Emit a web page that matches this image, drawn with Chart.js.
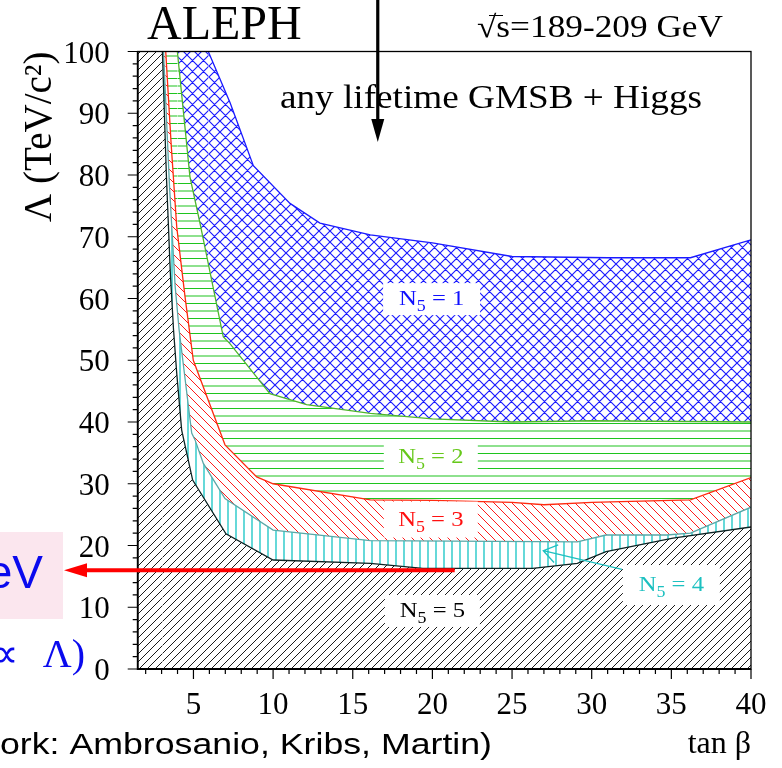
<!DOCTYPE html>
<html>
<head>
<meta charset="utf-8">
<script src="https://cdn.jsdelivr.net/npm/chart.js@4.4.1/dist/chart.umd.min.js"></script>
<style>
  html, body { margin: 0; padding: 0; background: #ffffff; }
  #wrap { width: 782px; height: 768px; position: relative; }
</style>
</head>
<body>
<div id="wrap"><canvas id="c" width="782" height="768"></canvas></div>
<script>
// ---- axes ----
const tanBetaRange = [1.5, 40];
const lambdaRange = [0, 100];
const xTicks = [5, 10, 15, 20, 25, 30, 35, 40];
const yTicks = [0, 10, 20, 30, 40, 50, 60, 70, 80, 90, 100];
const xMinorTicks = [2, 3, 4, 6, 7, 8, 9, 11, 12, 13, 14, 16, 17, 18, 19, 21, 22, 23, 24,
                     26, 27, 28, 29, 31, 32, 33, 34, 36, 37, 38, 39];
const yMinorTicks = [2, 4, 6, 8, 12, 14, 16, 18, 22, 24, 26, 28, 32, 34, 36, 38, 42, 44, 46, 48,
                     52, 54, 56, 58, 62, 64, 66, 68, 72, 74, 76, 78, 82, 84, 86, 88, 92, 94, 96, 98];

// ---- excluded-region upper boundaries, Lambda (TeV/c^2) vs tan(beta) ----
const n5Bound5TanB = [1.5, 3.05, 3.3, 3.55, 3.75, 3.95, 4.26, 4.95, 7.04, 10.0, 16.1, 19.4, 26.3, 29.1, 30.9, 35.1, 40];
const n5Bound5Lam  = [100, 100, 80, 64, 54.9, 47.9, 38.7, 30.6, 21.9, 17.65, 17.1, 16.3, 16.3, 17.1, 19.0, 21.2, 23.0];

const n5Bound4TanB = [1.5, 3.12, 3.5, 3.85, 4.1, 4.89, 5.1, 5.62, 6.98, 10.0, 16.1, 29.1, 30.9, 34.7, 36.2, 40];
const n5Bound4Lam  = [100, 100, 78, 62, 54.9, 38.2, 37.1, 33.3, 27.6, 22.5, 20.8, 20.6, 21.7, 21.7, 22.0, 26.2];

const n5Bound3TanB = [1.5, 3.26, 3.6, 3.95, 4.47, 4.99, 6.98, 8.97, 10.0, 16.1, 20, 25, 27, 30, 36.2, 40];
const n5Bound3Lam  = [100, 100, 85, 71.6, 60.3, 50, 36.3, 31.1, 30.0, 27.4, 27.3, 27.0, 26.6, 27.0, 27.4, 31.0];

const n5Bound2TanB = [1.5, 3.99, 4.78, 5.41, 6.87, 7.29, 9.8, 12.1, 16.1, 20, 25, 30, 40];
const n5Bound2Lam  = [100, 100, 79.7, 72.2, 53.8, 52.7, 44.6, 42.8, 41.4, 40.5, 40.0, 40.2, 40.0];

const n5Bound1TanB = [1.5, 5.93, 7.3, 8.76, 11.06, 12.94, 16.1, 20, 25, 31, 36.2, 40];
const n5Bound1Lam  = [100, 100, 91.7, 81.5, 75.4, 72.2, 70.3, 69.0, 66.8, 66.6, 66.6, 69.5];

// ---- region labels ----
const labelTexts  = ['1', '2', '3', '4', '5'];
const labelTanB   = [19.95, 19.9, 19.9, 35.0, 20.0];
const labelLam    = [59.9, 34.4, 24.2, 13.6, 9.4];
const labelColors = ['#1010ff', '#66c81a', '#ff1010', '#1cc0c0', '#000000'];

// limit quoted in the side annotation
const lambdaLimit = 16.0;
const lambdaLimitEndTanB = 21.4;

function pts(xs, ys) { return xs.map((x, i) => ({ x: x, y: ys[i] })); }

function hatch(kind, color, step, lw) {
  const c = document.createElement('canvas');
  c.width = step; c.height = step;
  const g = c.getContext('2d');
  g.strokeStyle = color;
  g.lineWidth = lw;
  g.beginPath();
  const s = step;
  const fdiag = () => {
    g.moveTo(0, s); g.lineTo(s, 0);
    g.moveTo(-s / 2, s / 2); g.lineTo(s / 2, -s / 2);
    g.moveTo(s / 2, s * 1.5); g.lineTo(s * 1.5, s / 2);
  };
  const bdiag = () => {
    g.moveTo(0, 0); g.lineTo(s, s);
    g.moveTo(-s / 2, s / 2); g.lineTo(s / 2, s * 1.5);
    g.moveTo(s / 2, -s / 2); g.lineTo(s * 1.5, s / 2);
  };
  if (kind === 'fdiag') fdiag();
  else if (kind === 'bdiag') bdiag();
  else if (kind === 'cross') { fdiag(); bdiag(); }
  else if (kind === 'vert') { g.moveTo(s / 2, 0); g.lineTo(s / 2, s); }
  else if (kind === 'horiz') { g.moveTo(0, 3.5); g.lineTo(s, 3.5); g.moveTo(0, 11); g.lineTo(s, 11); }
  g.stroke();
  return g.createPattern(c, 'repeat');
}

const ctx0 = document.getElementById('c').getContext('2d');
const patBlack = hatch('fdiag', '#1a1a1a', 8, 1);
const patCyan  = hatch('vert',  '#14c4c4', 8, 1.3);
const patRed   = hatch('bdiag', '#ff1a1a', 9, 1);
const patGreen = hatch('horiz', '#1ec41e', 15, 1.2);
const patBlue  = hatch('cross', '#1a1aff', 11, 1.15);

const hideTop = { borderColor: c => (c.p0.parsed.y >= 100 && c.p1.parsed.y >= 100) ? 'rgba(0,0,0,0)' : undefined };

function boundary(xs, ys, line, fillPat, target) {
  return {
    data: pts(xs, ys),
    borderColor: line,
    borderWidth: 1.3,
    backgroundColor: fillPat,
    fill: target,
    pointRadius: 0,
    tension: 0,
    segment: hideTop
  };
}

const serif = 'Liberation Serif';
const sans = 'Liberation Sans';

function stretchText(ctx, str, left, right, baseline, font, color) {
  ctx.save();
  ctx.font = font;
  const w = ctx.measureText(str).width;
  ctx.translate(left, baseline);
  ctx.scale((right - left) / w, 1);
  ctx.fillStyle = color;
  ctx.textAlign = 'left';
  ctx.textBaseline = 'alphabetic';
  ctx.fillText(str, 0, 0);
  ctx.restore();
}

const decor = {
  id: 'decor',
  beforeDraw(chart) {
    const c = chart.ctx;
    c.save();
    c.fillStyle = '#ffffff';
    c.fillRect(0, 0, chart.width, chart.height);
    c.restore();
  },
  afterDatasetsDraw(chart) {
    const c = chart.ctx;
    const xs = chart.scales.x, ys = chart.scales.y;
    const a = chart.chartArea;
    c.save();

    // region labels on white boxes
    const boxW = [97, 94, 94, 97, 95];
    const boxH = [32, 33, 36, 40, 32];
    for (let i = 0; i < labelTexts.length; i++) {
      const cx = xs.getPixelForValue(labelTanB[i]);
      const cy = ys.getPixelForValue(labelLam[i]);
      c.fillStyle = '#ffffff';
      c.fillRect(cx - boxW[i] / 2, cy - boxH[i] / 2, boxW[i], boxH[i]);
      c.save();
      c.translate(cx, cy + 6);
      c.scale(1.12, 1);
      c.fillStyle = labelColors[i];
      c.textBaseline = 'alphabetic';
      c.font = '22px "' + serif + '"';
      const wN = c.measureText('N').width;
      const tail = ' = ' + labelTexts[i];
      const wT = c.measureText(tail).width;
      c.font = '16px "' + serif + '"';
      const wS = c.measureText('5').width;
      const total = wN + wS + wT;
      let x0 = -total / 2;
      c.font = '22px "' + serif + '"';
      c.fillText('N', x0, 0);
      c.font = '16px "' + serif + '"';
      c.fillText('5', x0 + wN, 6);
      c.font = '22px "' + serif + '"';
      c.fillText(tail, x0 + wN + wS, 0);
      c.restore();
    }

    // pointer for the N5 = 4 band
    const tx = xs.getPixelForValue(26.96), ty = ys.getPixelForValue(19.16);
    const sx = xs.getPixelForValue(31.9), sy = ys.getPixelForValue(16.15);
    c.strokeStyle = '#1cc0c0';
    c.lineWidth = 1.3;
    c.beginPath();
    c.moveTo(sx, sy); c.lineTo(tx, ty);
    const ang = Math.atan2(sy - ty, sx - tx);
    const L = 16;
    c.moveTo(tx + L * Math.cos(ang + 0.6), ty + L * Math.sin(ang + 0.6));
    c.lineTo(tx, ty);
    c.lineTo(tx + L * Math.cos(ang - 0.6), ty + L * Math.sin(ang - 0.6));
    c.stroke();

    // frame
    c.strokeStyle = '#000000';
    c.lineWidth = 1.3;
    c.strokeRect(a.left, a.top, a.right - a.left, a.bottom - a.top);
    c.lineWidth = 1.8;
    c.beginPath();
    c.moveTo(a.left, a.top); c.lineTo(a.left, a.bottom); c.lineTo(a.right, a.bottom);
    c.stroke();

    // ticks, pointing outward
    c.lineWidth = 1.2;
    c.beginPath();
    xTicks.forEach(v => { const p = xs.getPixelForValue(v); c.moveTo(p, a.bottom); c.lineTo(p, a.bottom + 10); });
    xMinorTicks.forEach(v => { const p = xs.getPixelForValue(v); c.moveTo(p, a.bottom); c.lineTo(p, a.bottom + 5); });
    yTicks.forEach(v => { const p = ys.getPixelForValue(v); c.moveTo(a.left, p); c.lineTo(a.left - 10, p); });
    yMinorTicks.forEach(v => { const p = ys.getPixelForValue(v); c.moveTo(a.left, p); c.lineTo(a.left - 5, p); });
    c.stroke();
    c.restore();
  },
  afterDraw(chart) {
    const c = chart.ctx;
    const xs = chart.scales.x, ys = chart.scales.y;
    c.save();

    // header
    c.fillStyle = '#000000';
    c.textBaseline = 'alphabetic';
    c.font = '48px "' + serif + '"';
    c.fillText('ALEPH', 147, 39);
    stretchText(c, '√s=189-209 GeV', 477, 723, 37, '31px "' + serif + '"', '#000000');
    c.strokeStyle = '#000000';
    c.lineWidth = 1;
    c.beginPath(); c.moveTo(489, 15.5); c.lineTo(503, 15.5); c.stroke();
    stretchText(c, 'any lifetime GMSB + Higgs', 280, 702, 107.5, '34px "' + serif + '"', '#000000');

    // downward arrow from the header
    const ax = xs.getPixelForValue(16.57);
    c.strokeStyle = '#000000';
    c.fillStyle = '#000000';
    c.lineWidth = 3.2;
    c.beginPath(); c.moveTo(ax, 0); c.lineTo(ax, 122); c.stroke();
    c.beginPath(); c.moveTo(ax - 6.5, 119); c.lineTo(ax + 6.5, 119); c.lineTo(ax, 142); c.closePath(); c.fill();

    // side annotation
    c.fillStyle = '#fbe6ee';
    c.fillRect(0, 532, 63, 87);
    c.fillStyle = '#0a0aee';
    c.textAlign = 'right';
    c.font = '46px "' + sans + '"';
    c.fillText('eV', 43, 588);
    c.font = '40px "' + serif + '"';
    c.fillText('∝', 19, 667);
    c.fillText('Λ)', 85, 667);

    // red arrow at the quoted limit
    const ry = ys.getPixelForValue(lambdaLimit);
    const rx = xs.getPixelForValue(lambdaLimitEndTanB);
    c.strokeStyle = '#ff0000';
    c.fillStyle = '#ff0000';
    c.lineWidth = 4;
    c.beginPath(); c.moveTo(rx, ry); c.lineTo(84, ry); c.stroke();
    c.beginPath(); c.moveTo(64, ry); c.lineTo(87, ry - 7); c.lineTo(87, ry + 7); c.closePath(); c.fill();

    // credit line
    stretchText(c, 'ork: Ambrosanio, Kribs, Martin)', 0, 492, 754, '30px "' + sans + '"', '#000000');
    c.restore();
  }
};

new Chart(ctx0, {
  type: 'line',
  data: {
    datasets: [
      boundary(n5Bound5TanB, n5Bound5Lam, '#0d2424', patBlack, 'origin'),
      boundary(n5Bound4TanB, n5Bound4Lam, '#5aa8a8', patCyan, '-1'),
      boundary(n5Bound3TanB, n5Bound3Lam, '#ff2a10', patRed, '-1'),
      boundary(n5Bound2TanB, n5Bound2Lam, '#4fb52a', patGreen, '-1'),
      boundary(n5Bound1TanB, n5Bound1Lam, '#1a1aff', patBlue, '-1')
    ]
  },
  options: {
    responsive: false,
    animation: false,
    devicePixelRatio: 1,
    layout: { padding: { left: 0, top: 51.5, right: 31, bottom: 0 } },
    plugins: { legend: { display: false }, tooltip: { enabled: false } },
    scales: {
      x: {
        type: 'linear',
        min: tanBetaRange[0], max: tanBetaRange[1],
        afterBuildTicks: s => { s.ticks = xTicks.map(v => ({ value: v })); },
        afterFit: s => { s.height = 99; },
        grid: { display: false },
        border: { display: false },
        ticks: { color: '#000000', font: { family: serif, size: 31 }, padding: 10, maxRotation: 0, autoSkip: false },
        title: { display: true, text: 'tan β', align: 'end', color: '#000000',
                 font: { family: serif, size: 32 }, padding: { top: 0, bottom: 4 } }
      },
      y: {
        type: 'linear',
        min: lambdaRange[0], max: lambdaRange[1],
        afterBuildTicks: s => { s.ticks = yTicks.map(v => ({ value: v })); },
        afterFit: s => { s.width = 137.7; },
        grid: { display: false },
        border: { display: false },
        ticks: { color: '#000000', font: { family: serif, size: 31 }, padding: 20, labelOffset: 3, autoSkip: false },
        title: { display: true, text: 'Λ (TeV/c²)', align: 'end', color: '#000000',
                 font: { family: serif, size: 39 }, padding: { top: 17, bottom: 0 } }
      }
    }
  },
  plugins: [decor]
});
</script>
</body>
</html>
